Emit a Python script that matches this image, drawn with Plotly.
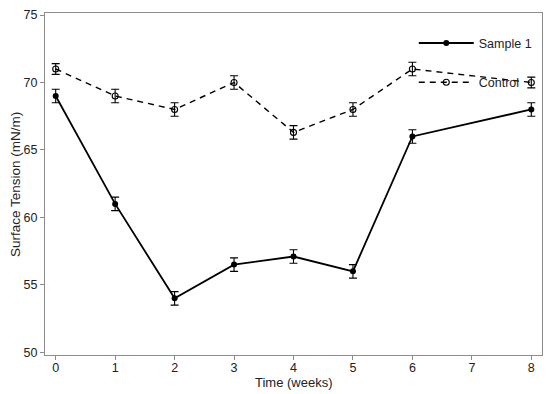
import plotly.graph_objects as go

weeks = [0, 1, 2, 3, 4, 5, 6, 8]
sample1 = [69.0, 61.0, 54.0, 56.5, 57.1, 56.0, 66.0, 68.0]
sample1_err = [0.5, 0.5, 0.5, 0.5, 0.5, 0.5, 0.5, 0.5]
control = [71.0, 69.0, 68.0, 70.0, 66.3, 68.0, 71.0, 70.0]
control_err = [0.4, 0.5, 0.5, 0.5, 0.5, 0.5, 0.5, 0.4]
xticks = [0, 1, 2, 3, 4, 5, 6, 7, 8]
yticks = [50, 55, 60, 65, 70, 75]

FONT = "Liberation Sans, Arial"

fig = go.Figure()
fig.add_trace(go.Scatter(
    x=weeks, y=sample1, mode="lines+markers", name="Sample 1",
    legendgroup="s1",
    line=dict(color="black", width=1.8),
    marker=dict(symbol="circle", size=6, color="black"),
    error_y=dict(type="data", array=sample1_err, visible=True, color="black", thickness=1.1, width=4),
))
fig.add_trace(go.Scatter(
    x=weeks, y=control, mode="lines+markers", name="Control",
    legendgroup="c",
    line=dict(color="black", width=1.4, dash="6px,5px"),
    marker=dict(symbol="circle-open", size=6, color="black", line=dict(width=1.1)),
    error_y=dict(type="data", array=control_err, visible=True, color="black", thickness=1.1, width=4),
))

axis_common = dict(
    showline=True, linecolor="#8c8c8c", linewidth=1.2, mirror=True,
    ticks="outside", ticklen=4, tickcolor="#8c8c8c", tickwidth=1.2,
    showgrid=False, zeroline=False, automargin=False,
    tickfont=dict(family=FONT, size=12.5, color="#222"),
)
fig.update_xaxes(range=[-0.18, 8.18], tickvals=xticks, ticklabelstandoff=-3, **axis_common)
fig.update_yaxes(range=[49.8, 75.15], tickvals=yticks, **axis_common)

fig.add_annotation(text="Time (weeks)", xref="paper", yref="paper", x=0.5, y=-0.081,
                   xanchor="center", yanchor="middle", showarrow=False,
                   font=dict(family=FONT, size=13, color="#222"))
fig.add_annotation(text="Surface Tension (mN/m)", xref="paper", yref="paper", x=-0.0604, y=0.5,
                   xanchor="center", yanchor="middle", showarrow=False, textangle=-90,
                   font=dict(family=FONT, size=13.5, color="#222"))

fig.update_layout(
    width=550, height=394,
    margin=dict(l=45, r=8, t=13, b=39),
    paper_bgcolor="white", plot_bgcolor="white",
    showlegend=True,
    legend=dict(x=0.742, y=0.955, xanchor="left", yanchor="top",
                bgcolor="rgba(0,0,0,0)", tracegroupgap=20, itemwidth=55,
                font=dict(family=FONT, size=12.5, color="#222")),
)
fig.write_html("out.html", config={"displayModeBar": False},
               post_script="document.body.style.margin='0';")
